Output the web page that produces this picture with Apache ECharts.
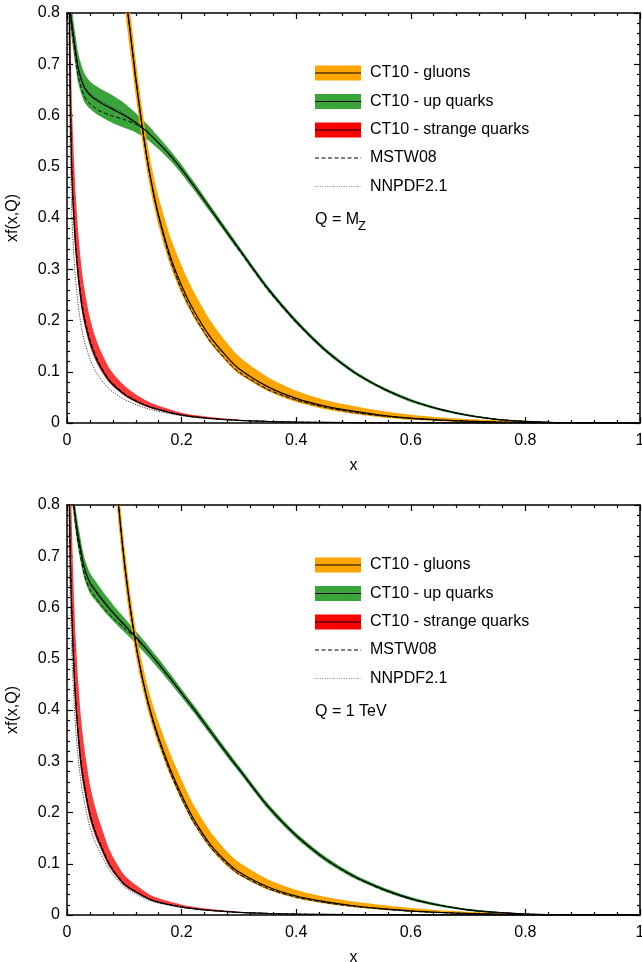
<!DOCTYPE html>
<html>
<head>
<meta charset="utf-8">
<script src="https://cdn.jsdelivr.net/npm/echarts@6/dist/echarts.min.js"></script>
<style>
  html, body { margin: 0; padding: 0; background: #fff; overflow: hidden; }
  #chart { width: 642px; height: 962px; }
</style>
</head>
<body>
<div id="chart"></div>
<script>
// x grids (momentum fraction) for each parton
const gluonX = [0.06,0.07,0.08,0.09,0.10,0.11,0.12,0.13,0.14,0.15,0.16,0.18,0.20,0.22,0.25,0.28,0.30,0.35,0.40,0.45,0.50,0.55,0.60,0.65,0.70,0.75,0.80,0.85,0.90,1.00];
const upX = [0.001,0.002,0.003,0.005,0.0075,0.01,0.015,0.02,0.03,0.04,0.05,0.06,0.08,0.10,0.12,0.14,0.16,0.18,0.20,0.22,0.25,0.28,0.30,0.35,0.40,0.45,0.50,0.55,0.60,0.65,0.70,0.75,0.80,0.85,0.90,1.00];
const strangeX = [0.002,0.003,0.004,0.005,0.006,0.008,0.01,0.0125,0.015,0.02,0.025,0.03,0.04,0.05,0.06,0.075,0.1,0.125,0.15,0.2,0.25,0.3,0.35,0.4,0.5,0.6,0.8,1.0];

// ---- Q = M_Z ----
// gluon: CT10 central, band (+ / -), MSTW08, NNPDF2.1
const mzGluon      = [1.62,1.36,1.15,0.99,0.86,0.765,0.672,0.588,0.515,0.455,0.405,0.326,0.268,0.222,0.168,0.128,0.106,0.071,0.048,0.033,0.023,0.015,0.0095,0.006,0.0035,0.002,0.001,0.0004,0.0001,0];
const mzGluonUp    = [0.08,0.068,0.058,0.05,0.043,0.040,0.037,0.035,0.033,0.033,0.035,0.038,0.039,0.037,0.032,0.027,0.024,0.019,0.015,0.012,0.010,0.0082,0.0066,0.0053,0.0042,0.0033,0.0025,0.0014,0.0006,0];
const mzGluonDown  = [0.08,0.068,0.058,0.05,0.043,0.038,0.034,0.030,0.026,0.023,0.021,0.018,0.016,0.014,0.012,0.011,0.0105,0.0085,0.007,0.006,0.005,0.0042,0.0033,0.0025,0.0018,0.0012,0.0008,0.0004,0.0001,0];
const mzGluonMstw  = [1.62,1.36,1.15,0.99,0.86,0.765,0.672,0.588,0.513,0.452,0.401,0.320,0.260,0.214,0.160,0.121,0.100,0.066,0.045,0.031,0.021,0.014,0.0088,0.0055,0.0032,0.0018,0.0009,0.0003,0.0001,0];
const mzGluonNnpdf = [1.63,1.37,1.16,0.995,0.865,0.768,0.674,0.589,0.513,0.451,0.400,0.318,0.258,0.212,0.158,0.119,0.098,0.065,0.044,0.030,0.020,0.0135,0.0085,0.0052,0.003,0.0017,0.0008,0.0003,0.0001,0];

// up quark
const mzUp      = [1.05,0.93,0.88,0.815,0.787,0.765,0.725,0.690,0.655,0.640,0.631,0.624,0.612,0.600,0.586,0.568,0.546,0.522,0.495,0.465,0.418,0.371,0.340,0.263,0.198,0.143,0.100,0.068,0.044,0.027,0.015,0.007,0.003,0.001,0.0003,0];
const mzUpErr   = [0.030,0.030,0.030,0.030,0.030,0.030,0.030,0.029,0.028,0.027,0.027,0.027,0.027,0.024,0.019,0.015,0.012,0.010,0.009,0.008,0.007,0.006,0.0055,0.005,0.0045,0.004,0.0035,0.003,0.003,0.0025,0.002,0.0015,0.001,0.0005,0.0002,0];
const mzUpMstw  = [1.04,0.92,0.87,0.805,0.777,0.755,0.713,0.675,0.638,0.623,0.614,0.607,0.599,0.592,0.583,0.568,0.546,0.522,0.495,0.465,0.418,0.370,0.338,0.261,0.196,0.142,0.099,0.068,0.044,0.027,0.015,0.007,0.003,0.001,0.0003,0];
const mzUpNnpdf = [1.06,0.94,0.885,0.82,0.79,0.768,0.728,0.693,0.658,0.643,0.634,0.627,0.615,0.603,0.588,0.569,0.547,0.523,0.496,0.466,0.419,0.372,0.341,0.264,0.199,0.144,0.100,0.068,0.044,0.027,0.015,0.007,0.003,0.001,0.0003,0];

// strange quark
const mzStrange      = [1.30,1.00,0.83,0.70,0.61,0.50,0.44,0.39,0.345,0.282,0.236,0.203,0.158,0.128,0.106,0.081,0.056,0.040,0.029,0.0155,0.0088,0.005,0.003,0.0018,0.0006,0.0002,0,0];
const mzStrangeUp    = [0.39,0.30,0.25,0.21,0.183,0.15,0.132,0.117,0.104,0.085,0.071,0.061,0.047,0.038,0.032,0.024,0.017,0.012,0.0087,0.0047,0.0027,0.0015,0.0009,0.0006,0.0002,0.0001,0,0];
const mzStrangeDown  = [0.065,0.05,0.042,0.035,0.03,0.025,0.022,0.02,0.017,0.014,0.012,0.010,0.008,0.0064,0.0053,0.004,0.0028,0.002,0.0015,0.0008,0.0005,0.0003,0.0002,0.0001,0,0,0,0];
const mzStrangeMstw  = [1.33,1.03,0.855,0.72,0.628,0.515,0.453,0.402,0.355,0.29,0.243,0.209,0.163,0.132,0.109,0.083,0.0575,0.041,0.0298,0.016,0.009,0.0052,0.0031,0.0018,0.0006,0.0002,0,0];
const mzStrangeNnpdf = [1.10,0.85,0.70,0.59,0.515,0.42,0.365,0.318,0.28,0.226,0.188,0.161,0.125,0.101,0.084,0.065,0.046,0.034,0.025,0.014,0.0082,0.0048,0.0029,0.0017,0.0006,0.0002,0,0];

// ---- Q = 1 TeV ----
const tevGluon      = [1.35,1.12,0.95,0.80,0.69,0.602,0.530,0.471,0.422,0.381,0.346,0.285,0.234,0.189,0.138,0.102,0.084,0.055,0.037,0.026,0.018,0.0125,0.008,0.005,0.003,0.0016,0.0008,0.0003,0.0001,0];
const tevGluonUp    = [0.06,0.05,0.042,0.036,0.032,0.029,0.027,0.027,0.027,0.028,0.029,0.030,0.030,0.028,0.025,0.021,0.019,0.015,0.012,0.0098,0.0082,0.0068,0.0055,0.0044,0.0034,0.0026,0.0019,0.001,0.0005,0];
const tevGluonDown  = [0.06,0.05,0.042,0.036,0.032,0.027,0.023,0.02,0.018,0.016,0.015,0.013,0.011,0.0095,0.008,0.007,0.0065,0.0052,0.0043,0.0036,0.003,0.0024,0.0018,0.0013,0.0009,0.0006,0.0004,0.0002,0.0001,0];
const tevGluonMstw  = [1.35,1.12,0.95,0.80,0.69,0.602,0.529,0.469,0.419,0.377,0.341,0.279,0.228,0.183,0.133,0.098,0.080,0.052,0.035,0.0245,0.017,0.0117,0.0075,0.0047,0.0028,0.0015,0.0007,0.0003,0.0001,0];
const tevGluonNnpdf = [1.36,1.13,0.955,0.803,0.692,0.603,0.529,0.468,0.418,0.376,0.340,0.278,0.227,0.182,0.132,0.097,0.079,0.051,0.034,0.024,0.0165,0.0113,0.0072,0.0045,0.0027,0.0014,0.0007,0.0003,0.0001,0];

const tevUp      = [1.25,1.08,1.0,0.92,0.855,0.82,0.772,0.735,0.678,0.648,0.632,0.617,0.590,0.566,0.542,0.517,0.490,0.462,0.433,0.404,0.359,0.314,0.285,0.213,0.155,0.110,0.076,0.051,0.032,0.019,0.010,0.005,0.002,0.0007,0.0002,0];
const tevUpErr   = [0.025,0.025,0.025,0.025,0.023,0.023,0.023,0.023,0.021,0.020,0.019,0.018,0.016,0.014,0.012,0.011,0.010,0.009,0.008,0.0075,0.007,0.0065,0.006,0.0055,0.005,0.0045,0.004,0.0035,0.003,0.0025,0.002,0.0015,0.001,0.0005,0.0002,0];
const tevUpMstw  = [1.242,1.072,0.992,0.912,0.847,0.812,0.762,0.723,0.665,0.635,0.619,0.604,0.580,0.560,0.540,0.516,0.489,0.461,0.432,0.403,0.358,0.313,0.284,0.212,0.154,0.109,0.075,0.050,0.031,0.019,0.010,0.005,0.002,0.0007,0.0002,0];
const tevUpNnpdf = [1.255,1.085,1.005,0.925,0.86,0.824,0.775,0.738,0.681,0.651,0.635,0.620,0.592,0.568,0.544,0.518,0.491,0.463,0.434,0.405,0.360,0.315,0.286,0.214,0.156,0.111,0.076,0.051,0.032,0.019,0.010,0.005,0.002,0.0007,0.0002,0];

const tevStrange      = [1.35,0.98,0.82,0.74,0.68,0.60,0.535,0.470,0.418,0.345,0.29,0.253,0.195,0.159,0.132,0.096,0.060,0.042,0.028,0.0155,0.009,0.005,0.003,0.0018,0.0006,0.0002,0,0];
const tevStrangeUp    = [0.41,0.29,0.245,0.22,0.20,0.18,0.16,0.141,0.125,0.103,0.087,0.076,0.059,0.048,0.040,0.029,0.018,0.0126,0.0084,0.0047,0.0027,0.0015,0.0009,0.0006,0.0002,0.0001,0,0];
const tevStrangeDown  = [0.068,0.049,0.041,0.037,0.034,0.03,0.027,0.024,0.021,0.017,0.0145,0.0127,0.0098,0.008,0.0066,0.0048,0.003,0.0021,0.0014,0.0008,0.0005,0.0003,0.0002,0.0001,0,0,0,0];
const tevStrangeMstw  = [1.38,1.0,0.835,0.755,0.694,0.612,0.546,0.479,0.426,0.352,0.296,0.258,0.199,0.162,0.135,0.098,0.061,0.043,0.0286,0.0158,0.0092,0.0051,0.0031,0.0018,0.0006,0.0002,0,0];
const tevStrangeNnpdf = [1.19,0.86,0.72,0.65,0.598,0.528,0.47,0.412,0.366,0.302,0.254,0.222,0.171,0.14,0.117,0.086,0.055,0.038,0.026,0.0145,0.0085,0.0048,0.0028,0.0017,0.0006,0.0002,0,0];

// axis ticks
const xTicks = [0, 0.2, 0.4, 0.6, 0.8, 1];
const yTicks = [0, 0.1, 0.2, 0.3, 0.4, 0.5, 0.6, 0.7, 0.8];

const legendLabels = ['CT10 - gluons', 'CT10 - up quarks', 'CT10 - strange quarks', 'MSTW08', 'NNPDF2.1'];
const FONT = '"Liberation Sans", Arial, Helvetica, sans-serif';
const COLORS = { gluon: '#ffa500', up: '#3aa33a', strange: '#ff3838' };
const SMOOTH = 0.25;

function pairs(xs, ys) { return xs.map((x, i) => [x, ys[i]]); }

// uncertainty band: one polygon along the upper edge and back along the lower edge
function band(xs, c, up, down, color, axis) {
  const lo = c.map((v, i) => v - down[i]);
  const hi = c.map((v, i) => v + up[i]);
  return {
    type: 'custom', xAxisIndex: axis, yAxisIndex: axis, silent: true, animation: false,
    data: xs.map((x, i) => [x, lo[i], hi[i]]),
    encode: { x: 0, y: [1, 2] },
    renderItem: (params, api) => {
      if (params.dataIndex !== 0) return null;
      const upper = xs.map((x, i) => api.coord([x, hi[i]]));
      const lower = xs.map((x, i) => api.coord([x, lo[i]])).reverse();
      const cs = params.coordSys;
      return {
        type: 'polygon',
        shape: { points: upper.concat(lower), smooth: SMOOTH },
        style: { fill: color, stroke: null },
        clipPath: { type: 'rect', shape: { x: cs.x, y: cs.y, width: cs.width, height: cs.height } }
      };
    }
  };
}

function curve(xs, ys, style, axis) {
  return {
    type: 'line', xAxisIndex: axis, yAxisIndex: axis, data: pairs(xs, ys),
    symbol: 'none', silent: true, smooth: SMOOTH, clip: true,
    lineStyle: style, animation: false
  };
}

const SOLID = { color: '#000', width: 1.2, type: 'solid' };
const DASH = { color: '#000', width: 1, type: [4, 2.5] };
const DOT = { color: '#222', width: 1, type: [1, 1.5] };

function panelSeries(axis, d) {
  return [
    band(upX, d.up, d.upErr, d.upErr, COLORS.up, axis),
    band(gluonX, d.gluon, d.gluonUp, d.gluonDown, COLORS.gluon, axis),
    band(strangeX, d.strange, d.strangeUp, d.strangeDown, COLORS.strange, axis),
    curve(upX, d.upN, DOT, axis),
    curve(gluonX, d.gluonN, DOT, axis),
    curve(strangeX, d.strangeN, DOT, axis),
    curve(upX, d.upM, DASH, axis),
    curve(gluonX, d.gluonM, DASH, axis),
    curve(strangeX, d.strangeM, DASH, axis),
    curve(upX, d.up, SOLID, axis),
    curve(gluonX, d.gluon, SOLID, axis),
    curve(strangeX, d.strange, SOLID, axis)
  ];
}

const PLOT_LEFT = 67, PLOT_RIGHT = 2, PLOT_H = 410;
const panelTops = [13, 505];

function xAxes(grid) {
  const base = {
    type: 'value', gridIndex: grid, min: 0, max: 1, interval: 0.2,
    axisLine: { show: true, onZero: false, lineStyle: { color: '#000', width: 1.5 } },
    axisTick: { show: true, inside: true, length: 6, lineStyle: { color: '#000', width: 1.2 } },
    minorTick: { show: true, splitNumber: 5, length: 3, lineStyle: { color: '#000', width: 1.2 } },
    splitLine: { show: false }
  };
  return [
    Object.assign({}, base, {
      position: 'bottom',
      axisLabel: { show: true, margin: 10, color: '#000', fontSize: 16, fontFamily: FONT,
        formatter: v => String(xTicks.find(t => Math.abs(t - v) < 1e-9) ?? v) },
      name: 'x', nameLocation: 'middle', nameGap: 35,
      nameTextStyle: { color: '#000', fontSize: 16, fontFamily: FONT }
    }),
    Object.assign({}, base, { position: 'top', axisLabel: { show: false } })
  ];
}

function yAxes(grid) {
  const base = {
    type: 'value', gridIndex: grid, min: 0, max: 0.8, interval: 0.1,
    axisLine: { show: true, onZero: false, lineStyle: { color: '#000', width: 1.5 } },
    axisTick: { show: true, inside: true, length: 6, lineStyle: { color: '#000', width: 1.2 } },
    minorTick: { show: true, splitNumber: 5, length: 3, lineStyle: { color: '#000', width: 1.2 } },
    splitLine: { show: false }
  };
  return [
    Object.assign({}, base, {
      position: 'left',
      axisLabel: { show: true, margin: 7, color: '#000', fontSize: 16, fontFamily: FONT,
        formatter: v => String(yTicks.find(t => Math.abs(t - v) < 1e-9) ?? v) },
      name: 'xf(x,Q)', nameLocation: 'middle', nameGap: 46, nameRotate: 90,
      nameTextStyle: { color: '#000', fontSize: 16, fontFamily: FONT }
    }),
    Object.assign({}, base, { position: 'right', axisLabel: { show: false } })
  ];
}

function legendGraphics(top, qText, qSub) {
  const g = [];
  const x0 = 315, w = 46, tx = 370;
  const rows = [60, 88.5, 117, 145, 173.5];
  const bandColors = [COLORS.gluon, COLORS.up, '#ff0000'];
  rows.forEach((off, i) => {
    const cy = top + off;
    if (i < 3) {
      g.push({ type: 'rect', z: 50, shape: { x: x0, y: cy - 7.5, width: w, height: 15 }, style: { fill: bandColors[i] }, silent: true });
      g.push({ type: 'line', z: 51, shape: { x1: x0, y1: cy, x2: x0 + w, y2: cy }, style: { stroke: '#000', lineWidth: 1.2 }, silent: true });
    } else if (i === 3) {
      g.push({ type: 'line', z: 51, shape: { x1: x0, y1: cy, x2: x0 + w, y2: cy }, style: { stroke: '#000', lineWidth: 1, lineDash: [4, 2.5] }, silent: true });
    } else {
      g.push({ type: 'line', z: 51, shape: { x1: x0, y1: cy, x2: x0 + w, y2: cy }, style: { stroke: '#777', lineWidth: 0.9, lineDash: [1, 1.4] }, silent: true });
    }
    g.push({ type: 'text', z: 51, x: tx, y: cy, style: { text: legendLabels[i], fill: '#000', font: '16px ' + FONT, align: 'left', verticalAlign: 'middle' }, silent: true });
  });
  const qy = top + 207;
  g.push({ type: 'text', z: 51, x: x0, y: qy, style: { text: qText, fill: '#000', font: '16px ' + FONT, align: 'left', verticalAlign: 'middle' }, silent: true });
  if (qSub) {
    g.push({ type: 'text', z: 51, x: x0 + 43, y: qy + 6, style: { text: qSub, fill: '#000', font: '13px ' + FONT, align: 'left', verticalAlign: 'middle' }, silent: true });
  }
  return g;
}

const mzData = {
  gluon: mzGluon, gluonUp: mzGluonUp, gluonDown: mzGluonDown, gluonM: mzGluonMstw, gluonN: mzGluonNnpdf,
  up: mzUp, upErr: mzUpErr, upM: mzUpMstw, upN: mzUpNnpdf,
  strange: mzStrange, strangeUp: mzStrangeUp, strangeDown: mzStrangeDown, strangeM: mzStrangeMstw, strangeN: mzStrangeNnpdf
};
const tevData = {
  gluon: tevGluon, gluonUp: tevGluonUp, gluonDown: tevGluonDown, gluonM: tevGluonMstw, gluonN: tevGluonNnpdf,
  up: tevUp, upErr: tevUpErr, upM: tevUpMstw, upN: tevUpNnpdf,
  strange: tevStrange, strangeUp: tevStrangeUp, strangeDown: tevStrangeDown, strangeM: tevStrangeMstw, strangeN: tevStrangeNnpdf
};

const chart = echarts.init(document.getElementById('chart'), null, { renderer: 'canvas' });
chart.setOption({
  backgroundColor: '#fff',
  animation: false,
  grid: panelTops.map(t => ({ left: PLOT_LEFT, right: PLOT_RIGHT, top: t, height: PLOT_H, containLabel: false, outerBoundsMode: 'none' })),
  xAxis: [].concat(xAxes(0), xAxes(1)),
  yAxis: [].concat(yAxes(0), yAxes(1)),
  series: [].concat(panelSeries(0, mzData), panelSeries(2, tevData)),
  graphic: [].concat(
    legendGraphics(panelTops[0], 'Q = M', 'Z'),
    legendGraphics(panelTops[1], 'Q = 1 TeV', null)
  )
});
</script>
</body>
</html>
